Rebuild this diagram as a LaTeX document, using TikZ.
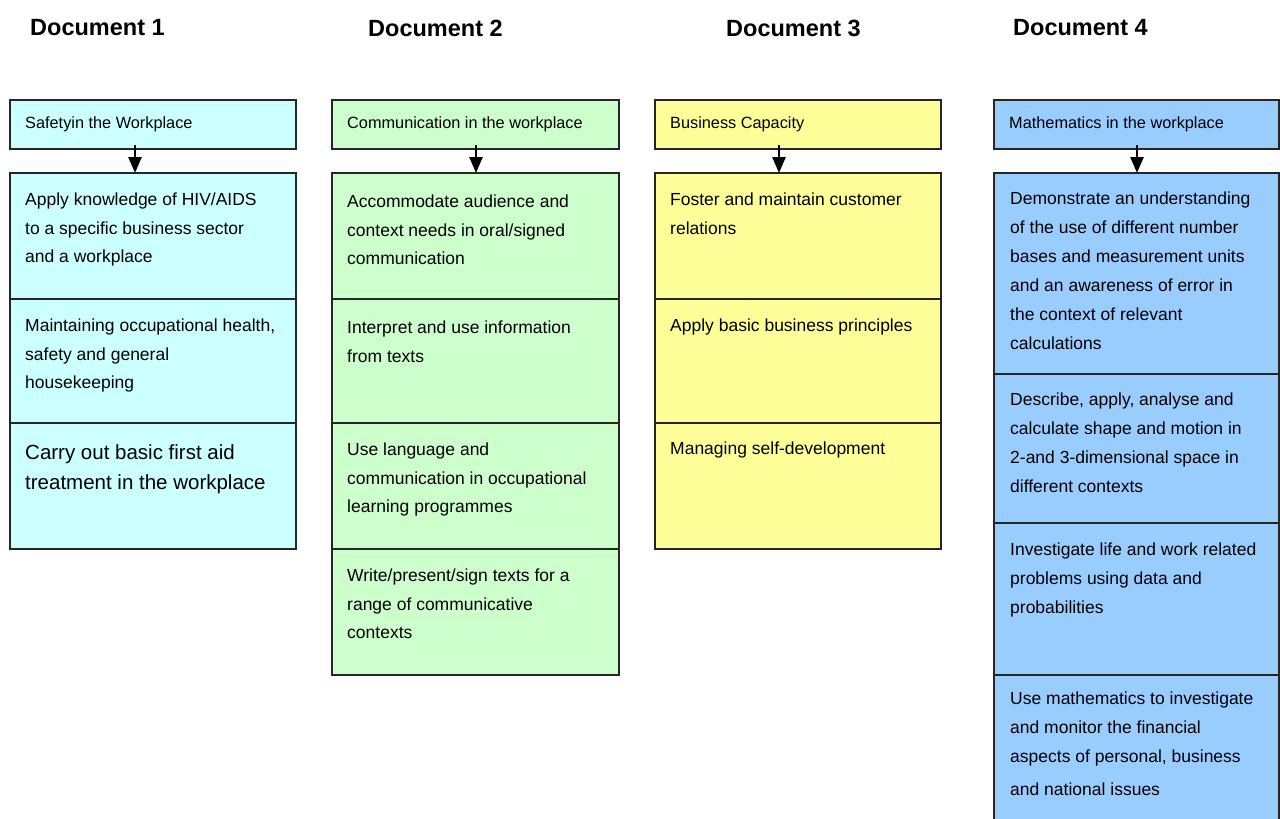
\documentclass[tikz,border=0pt]{standalone}
\usepackage{fontspec}
\setmainfont{Liberation Sans}
\usetikzlibrary{arrows.meta}
\definecolor{cA}{HTML}{CCFFFF}
\definecolor{cB}{HTML}{CCFFCC}
\definecolor{cC}{HTML}{FFFF99}
\definecolor{cD}{HTML}{99CCFF}
\begin{document}
\begin{tikzpicture}[x=1pt,y=-1pt,
  cell/.style={draw=black!85,line width=1.3pt,rectangle,inner sep=0pt,outer sep=0pt,anchor=north west},
  headtxt/.style={font=\bfseries\fontsize{23.5}{26}\selectfont,anchor=west,inner sep=0pt},
  htxt/.style={font=\fontsize{16.3}{18}\selectfont,anchor=west,inner sep=0pt},
  btxt/.style={font=\fontsize{17.5}{28.5}\selectfont,align=left,anchor=north west,inner sep=0pt},
  bigtxt/.style={font=\fontsize{20.5}{30.5}\selectfont,align=left,anchor=north west,inner sep=0pt},
  dtxt/.style={font=\fontsize{17.5}{29}\selectfont,align=left,anchor=north west,inner sep=0pt},
  arr/.style={line width=2.5pt,-{Triangle[length=16pt,width=13pt]}},
]
\useasboundingbox[fill=white] (0,0) rectangle (1280,819);
\begin{scope}
\clip (0,0) rectangle (1280,819);
% headings
\node[headtxt] (d1) at (30,28) {Document 1};
\node[headtxt] (d2) at (368,28) {Document 2};
\node[headtxt] (d3) at (726,28) {Document 3};
\node[headtxt] (d4) at (1013,28) {Document 4};

% column 1
\node[cell,fill=cA,minimum width=286,minimum height=49] (h1) at (10,100) {};
\node[htxt] (h1t) at ([xshift=15]h1.west) {Safetyin the Workplace};
\node[cell,fill=cA,minimum width=286,minimum height=126] (a1) at (10,173) {};
\node[cell,fill=cA,minimum width=286,minimum height=124] (a2) at (10,299) {};
\node[cell,fill=cA,minimum width=286,minimum height=126] (a3) at (10,423) {};
\node[btxt] (a1t) at ([xshift=15,yshift=-20]a1.north west) {Apply knowledge of HIV/AIDS\\to a specific business sector\\and a workplace};
\node[btxt] (a2t) at ([xshift=15,yshift=-20]a2.north west) {Maintaining occupational health,\\safety and general\\housekeeping};
\node[bigtxt] (a3t) at ([xshift=15,yshift=-21]a3.north west) {Carry out basic first aid\\treatment in the workplace};
\draw[arr] ([xshift=125,yshift=4]h1.south west) -- ([xshift=125]a1.north west);

% column 2
\node[cell,fill=cB,minimum width=287,minimum height=49] (h2) at (332,100) {};
\node[htxt] (h2t) at ([xshift=15]h2.west) {Communication in the workplace};
\node[cell,fill=cB,minimum width=287,minimum height=126] (b1) at (332,173) {};
\node[cell,fill=cB,minimum width=287,minimum height=124] (b2) at (332,299) {};
\node[cell,fill=cB,minimum width=287,minimum height=126] (b3) at (332,423) {};
\node[cell,fill=cB,minimum width=287,minimum height=126] (b4) at (332,549) {};
\node[btxt] (b1t) at ([xshift=15,yshift=-22]b1.north west) {Accommodate audience and\\context needs in oral/signed\\communication};
\node[btxt] (b2t) at ([xshift=15,yshift=-22]b2.north west) {Interpret and use information\\from texts};
\node[btxt] (b3t) at ([xshift=15,yshift=-20]b3.north west) {Use language and\\communication in occupational\\learning programmes};
\node[btxt] (b4t) at ([xshift=15,yshift=-20]b4.north west) {Write/present/sign texts for a\\range of communicative\\contexts};
\draw[arr] ([xshift=144,yshift=4]h2.south west) -- ([xshift=144]b1.north west);

% column 3
\node[cell,fill=cC,minimum width=286,minimum height=49] (h3) at (655,100) {};
\node[htxt] (h3t) at ([xshift=15]h3.west) {Business Capacity};
\node[cell,fill=cC,minimum width=286,minimum height=126] (c1) at (655,173) {};
\node[cell,fill=cC,minimum width=286,minimum height=124] (c2) at (655,299) {};
\node[cell,fill=cC,minimum width=286,minimum height=126] (c3) at (655,423) {};
\node[btxt] (c1t) at ([xshift=15,yshift=-20]c1.north west) {Foster and maintain customer\\relations};
\node[btxt] (c2t) at ([xshift=15,yshift=-20]c2.north west) {Apply basic business principles};
\node[btxt] (c3t) at ([xshift=15,yshift=-19]c3.north west) {Managing self-development};
\draw[arr] ([xshift=124,yshift=4]h3.south west) -- ([xshift=124]c1.north west);

% column 4
\node[cell,fill=cD,minimum width=285,minimum height=49] (h4) at (994,100) {};
\node[htxt] (h4t) at ([xshift=15]h4.west) {Mathematics in the workplace};
\node[cell,fill=cD,minimum width=285,minimum height=201] (e1) at (994,173) {};
\node[cell,fill=cD,minimum width=285,minimum height=149] (e2) at (994,374) {};
\node[cell,fill=cD,minimum width=285,minimum height=152] (e3) at (994,523) {};
\node[cell,fill=cD,minimum width=285,minimum height=170] (e4) at (994,675) {};
\node[dtxt] (e1t) at ([xshift=16,yshift=-19]e1.north west) {Demonstrate an understanding\\of the use of different number\\bases and measurement units\\and an awareness of error in\\the context of relevant\\calculations};
\node[dtxt] (e2t) at ([xshift=16,yshift=-19]e2.north west) {Describe, apply, analyse and\\calculate shape and motion in\\2-and 3-dimensional space in\\different contexts};
\node[dtxt] (e3t) at ([xshift=16,yshift=-20]e3.north west) {Investigate life and work related\\problems using data and\\probabilities};
\node[dtxt] (e4t) at ([xshift=16,yshift=-17]e4.north west) {Use mathematics to investigate\\and monitor the financial\\aspects of personal, business\\[4pt]and national issues};
\draw[arr] ([xshift=143,yshift=4]h4.south west) -- ([xshift=143]e1.north west);
\end{scope}
\end{tikzpicture}
\end{document}
